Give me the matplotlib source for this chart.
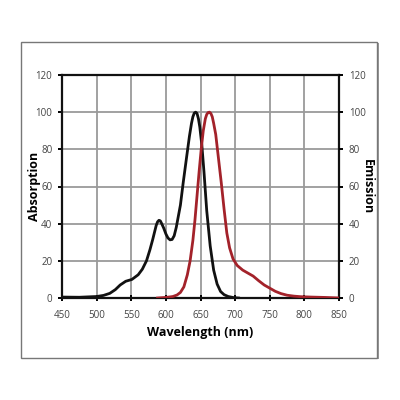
import numpy as np
import matplotlib.pyplot as plt
from matplotlib.patches import Rectangle

plt.rcParams['font.family'] = ['Open Sans', 'DejaVu Sans']

# Absorption spectrum (black)
abs_nm = [450, 475, 500, 510, 519, 527, 534, 542, 551, 560, 566, 572, 577, 581, 584,
          586, 588, 590, 592, 594, 597, 600, 603, 606, 609, 612, 615, 618, 621,
          625, 630, 634, 637, 639, 641, 643, 645, 647, 649, 652, 655, 659, 664,
          669, 674, 679, 684, 690, 698, 705]
abs_val = [0.5, 0.4, 0.8, 1.4, 2.5, 4.5, 7, 9, 10, 12.5, 15.5, 20, 26, 31.5, 36,
           39, 41, 41.8, 41.5, 40, 37.5, 34.5, 32.3, 31.3, 31.5, 33.5, 38, 44, 50,
           62, 76, 87, 94, 97.5, 99.5, 100, 99.3, 96.5, 92, 82, 68, 47, 28,
           15, 7.5, 3.5, 1.8, 0.8, 0.2, 0]

# Emission spectrum (dark red)
em_nm = [588, 600, 610, 616, 621, 626, 631, 635, 639, 642, 645, 648, 651, 654,
         657, 659, 661, 663, 665, 667, 669, 672, 676, 680, 684, 688, 692, 697, 703, 711,
         718, 726, 734, 742, 750, 758, 766, 775, 785, 795, 810, 830, 850]
em_val = [0, 0.3, 0.8, 1.6, 3, 6, 12.5, 20, 31, 42, 55, 68, 80, 90,
          96.5, 98.8, 99.8, 100, 99.3, 97.5, 94, 88, 75, 62, 48, 35, 27, 21, 17.5, 15,
          13.5, 11.8, 9.3, 7, 5.3, 3.6, 2.4, 1.5, 1.0, 0.7, 0.5, 0.3, 0]

x_ticks = [450, 500, 550, 600, 650, 700, 750, 800, 850]
y_ticks = [0, 20, 40, 60, 80, 100, 120]

fig = plt.figure(figsize=(4, 4), dpi=100)
fig.patch.set_facecolor('white')

# outer frame with a light shadow
fig.add_artist(Rectangle((0.056, 0.102), 0.891, 0.79, transform=fig.transFigure,
                         facecolor='#9a9a9a', edgecolor='none', zorder=0))
fig.add_artist(Rectangle((0.052, 0.106), 0.891, 0.79, transform=fig.transFigure,
                         facecolor='white', edgecolor='#777777', linewidth=1.0, zorder=0))

ax = fig.add_axes([0.155, 0.255, 0.6925, 0.5575])
ax.set_facecolor('white')
ax.set_zorder(2)

ax.plot(abs_nm, abs_val, color='#111111', linewidth=2.0, zorder=3,
        solid_joinstyle='round')
ax.plot(em_nm, em_val, color='#a3222a', linewidth=2.0, zorder=3,
        solid_joinstyle='round')

ax.set_xlim(450, 850)
ax.set_ylim(0, 120)
ax.set_xticks(x_ticks)
ax.set_yticks(y_ticks)
ax.grid(True, color='#9a9a9a', linewidth=1.3)
ax.set_axisbelow(True)

for s in ['left', 'right', 'top', 'bottom']:
    ax.spines[s].set_linewidth(1.6)
    ax.spines[s].set_color('#111111')

ax.tick_params(axis='x', direction='inout', length=5, width=1.4, labelsize=7,
               labelcolor='#444444', pad=6)
ax.tick_params(axis='y', direction='out', length=3, width=1.4, labelsize=7,
               labelcolor='#444444', pad=4)

ax.set_xlabel('Wavelength (nm)', fontsize=9, fontweight='bold', labelpad=4)
ax.set_ylabel('Absorption', fontsize=9, fontweight='bold')
ax.yaxis.set_label_coords(-0.075, 0.5)

ax2 = ax.twinx()
ax2.set_ylim(0, 120)
ax2.set_yticks(y_ticks)
ax2.tick_params(axis='y', direction='out', length=3, width=1.4, labelsize=7,
                labelcolor='#444444', pad=4)
for s in ['left', 'right', 'top', 'bottom']:
    ax2.spines[s].set_visible(False)
ax2.set_ylabel('Emission', fontsize=9, fontweight='bold', rotation=270, va='bottom')
ax2.yaxis.set_label_coords(1.08, 0.5)

fig.savefig('out.png', dpi=100)
